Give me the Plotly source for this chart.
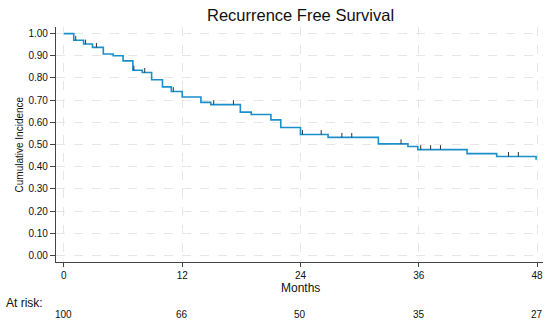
import plotly.graph_objects as go

# Step curve (event times in months, survival level after each step)
event_months = [0, 1.0, 2.0, 2.9, 4.0, 5.0, 6.0, 7.0, 7.95, 8.9, 10.0, 10.9, 12.0, 13.9, 14.9,
                17.9, 19.0, 21.0, 22.0, 24.0, 26.8, 31.9, 34.9, 35.9, 40.9, 43.9, 47.9]
survival = [1.00, 0.97, 0.953, 0.938, 0.908, 0.90, 0.877, 0.835, 0.825, 0.792, 0.76, 0.739, 0.714,
            0.69, 0.68, 0.646, 0.635, 0.611, 0.577, 0.545, 0.532, 0.503, 0.491, 0.477, 0.459, 0.446, 0.431]

# Censoring ticks
censor_months = [1.2, 2.2, 3.3, 7.1, 8.2, 11.1, 15.2, 17.2, 24.2, 26.1, 28.2, 29.2,
                 34.2, 36.2, 37.2, 38.2, 45.1, 46.1]
censor_surv = [0.97, 0.953, 0.938, 0.835, 0.825, 0.739, 0.68, 0.68, 0.545, 0.545, 0.532, 0.532,
               0.503, 0.477, 0.477, 0.477, 0.446, 0.446]

# At-risk table
risk_months = [0, 12, 24, 36, 48]
at_risk = [100, 66, 50, 35, 27]

x_ticks = [0, 12, 24, 36, 48]
y_ticks = [0.0, 0.1, 0.2, 0.3, 0.4, 0.5, 0.6, 0.7, 0.8, 0.9, 1.0]
y_labels = [f"{v:.2f}" for v in y_ticks]

FONT = "Liberation Sans, Arial, Helvetica, sans-serif"
LINE_BLUE = "#1b8fca"

fig = go.Figure()

fig.add_trace(go.Scatter(
    x=event_months, y=survival, mode="lines", line_shape="hv",
    line=dict(color=LINE_BLUE, width=1.6), hoverinfo="skip", showlegend=False))

fig.add_trace(go.Scatter(
    x=censor_months, y=censor_surv, mode="markers",
    marker=dict(size=1, color="rgba(0,0,0,0)"),
    error_y=dict(type="constant", value=0.02, valueminus=0, symmetric=False,
                 color="#333333", thickness=1, width=0),
    hoverinfo="skip", showlegend=False))

fig.update_layout(
    width=550, height=325,
    margin=dict(l=56, r=7, t=27, b=63),
    paper_bgcolor="white", plot_bgcolor="white",
    font=dict(family=FONT, size=10, color="#111111"),
    showlegend=False,
)

fig.update_xaxes(
    range=[-0.8, 48.6], tickvals=x_ticks, ticktext=[str(t) for t in x_ticks],
    showline=True, linecolor="#444444", linewidth=1.2,
    ticks="outside", ticklen=4, tickcolor="#444444",
    showgrid=True, gridcolor="#e6e6e6", griddash="dash", gridwidth=1,
    zeroline=False, tickfont=dict(size=10, family=FONT))

fig.update_yaxes(
    range=[-0.03, 1.03], tickvals=y_ticks, ticktext=y_labels,
    showline=True, linecolor="#444444", linewidth=1.2,
    ticks="outside", ticklen=5, tickcolor="#444444",
    showgrid=True, gridcolor="#e6e6e6", griddash="dash", gridwidth=1,
    zeroline=False, tickfont=dict(size=10, family=FONT))

annotations = [
    dict(text="Recurrence Free Survival", xref="x", yref="paper", x=24, y=1.051,
         showarrow=False, font=dict(size=16.5, family=FONT, color="#111111"),
         xanchor="center", yanchor="middle"),
    dict(text="Months", xref="x", yref="paper", x=24, y=-0.111, showarrow=False,
         font=dict(size=12, family=FONT, color="#111111"), xanchor="center", yanchor="middle"),
    dict(text="Cumulative Incidence", xref="paper", yref="paper", x=-0.074, y=0.5,
         showarrow=False, textangle=-90, font=dict(size=10, family=FONT, color="#111111"),
         xanchor="center", yanchor="middle"),
    dict(text="At risk:", xref="paper", yref="paper", x=-0.1068, y=-0.1745, showarrow=False,
         font=dict(size=12, family=FONT, color="#111111"), xanchor="left", yanchor="middle"),
]
for m, n in zip(risk_months, at_risk):
    annotations.append(dict(text=str(n), xref="x", yref="paper", x=m, y=-0.2255,
                            showarrow=False, font=dict(size=10, family=FONT, color="#111111"),
                            xanchor="center", yanchor="middle"))
fig.update_layout(annotations=annotations)

fig.write_html("out.html", config={"displayModeBar": False},
               post_script="document.body.style.margin='0';")
